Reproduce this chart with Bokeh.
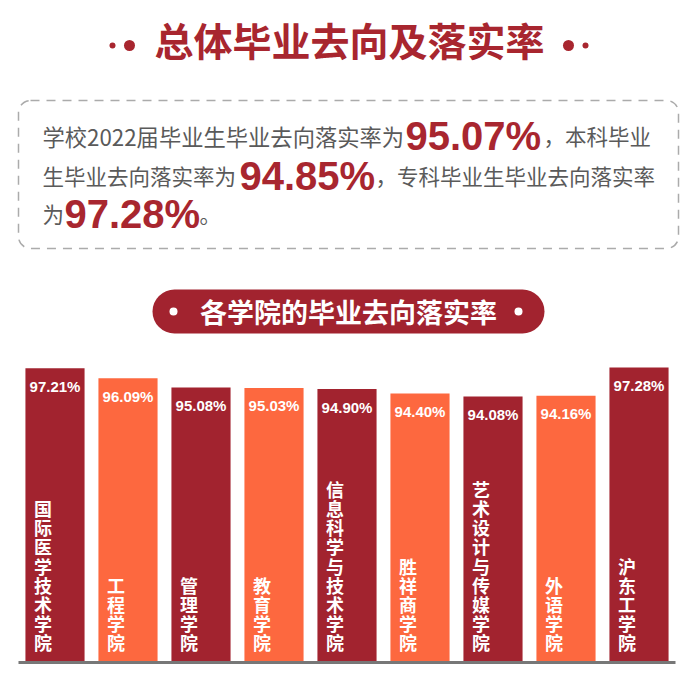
from bokeh.plotting import figure
from bokeh.models import Range1d, FactorRange, BoxAnnotation, ColumnDataSource
from bokeh.core.properties import value
from bokeh.embed import file_html
from bokeh.resources import INLINE

# ---------------- data ----------------
TITLE = "总体毕业去向及落实率"
SUBTITLE = "各学院的毕业去向落实率"
OVERALL_RATE = 95.07
UNDERGRAD_RATE = 94.85
JUNIOR_RATE = 97.28

colleges = ["国际医学技术学院", "工程学院", "管理学院", "教育学院", "信息科学与技术学院",
            "胜祥商学院", "艺术设计与传媒学院", "外语学院", "沪东工学院"]
rates = [97.21, 96.09, 95.08, 95.03, 94.90, 94.40, 94.08, 94.16, 97.28]

# ---------------- styles / layout ----------------
DARK = "#a2232f"
ORANGE = "#fd683f"
TITLE_RED = "#a8262f"
GRAY_TXT = "#5a5a5a"
CJK = "Noto Sans CJK SC"
LAT = "Liberation Sans"
W, H = 698, 685
RIGHT_BORDER = 5
PAD = 0.2466                 # factor-range padding (in category units)
BASE = 64.72                 # value at the bars' baseline
V_LO, V_HI = 62.18, 137.79   # value range over the whole canvas height

U_PER_PX = (len(colleges) + 2 * PAD) / (W - RIGHT_BORDER)
V_PER_PX = (V_HI - V_LO) / H


def X(px):   # page pixel -> synthetic x coordinate (for decorations)
    return px * U_PER_PX - PAD


def Y(py):   # page pixel (from top) -> y coordinate (for decorations)
    return V_LO + (H - py) * V_PER_PX


p = figure(width=W, height=H,
           x_range=FactorRange(factors=colleges, range_padding=PAD, range_padding_units="absolute"),
           y_range=Range1d(V_LO, V_HI),
           output_backend="svg", toolbar_location=None,
           min_border_left=0, min_border_right=RIGHT_BORDER, min_border_top=0, min_border_bottom=0)
p.axis.visible = False
p.grid.visible = False
p.outline_line_color = None

# ---------------- title ----------------
p.text(x=[X(W / 2)], y=[Y(38)], text=[TITLE], text_align="center", text_baseline="middle",
       text_font=value(CJK), text_font_style="bold", text_font_size="39px", text_color=TITLE_RED)
p.scatter(x=[X(v) for v in (112, 129, 568, 585)], y=[Y(45)] * 4, size=[6, 11, 11, 6],
          color=TITLE_RED, line_color=None)

# ---------------- paragraph box ----------------
p.add_layout(BoxAnnotation(left=X(18), right=X(678), top=Y(100), bottom=Y(248), level="underlay",
                           fill_color=None, fill_alpha=0, line_color="#ababab", line_alpha=1,
                           line_dash="9 7", line_width=1.5, border_radius=12))

num = lambda v: f"{v:.2f}%"
b1, b2, b3 = Y(135), Y(175), Y(213)
p.text(x=[X(42)], y=[b1], text=["学校2022届毕业生毕业去向落实率为"],
       text_align="left", text_baseline="alphabetic",
       text_font=value(CJK), text_font_size="22.3px", text_color=GRAY_TXT)
p.text(x=[X(v) for v in (543, 42, 375, 42, 199)], y=[b1, b2, b2, b3, b3],
       text=["，本科毕业",
             "生毕业去向落实率为", "，专科毕业生毕业去向落实率",
             "为", "。"],
       text_align="left", text_baseline="alphabetic",
       text_font=value(CJK), text_font_size="21.5px", text_color=GRAY_TXT)
p.text(x=[X(v) for v in (405, 239, 64)], y=[b1, b2, b3],
       text=[num(OVERALL_RATE), num(UNDERGRAD_RATE), num(JUNIOR_RATE)],
       text_align="left", text_baseline="alphabetic",
       text_font=value(LAT), text_font_style="bold", text_font_size="40px", text_color=TITLE_RED)

# ---------------- pill heading ----------------
p.add_layout(BoxAnnotation(left=X(152), right=X(544), top=Y(289), bottom=Y(333), level="underlay",
                           fill_color=DARK, fill_alpha=1, line_color=None, border_radius=22))
p.text(x=[X(348)], y=[Y(311)], text=[SUBTITLE], text_align="center", text_baseline="middle",
       text_font=value(CJK), text_font_style="bold", text_font_size="27px", text_color="white")
p.scatter(x=[X(173), X(518)], y=[Y(311)] * 2, size=8, color="white", line_color=None)

# ---------------- bars ----------------
src = ColumnDataSource(dict(
    college=colleges,
    rate=rates,
    color=[DARK if i % 2 == 0 else ORANGE for i in range(len(colleges))],
    label=[num(v) for v in rates],
    vlabel=["\n".join(list(c)) for c in colleges],
))

p.vbar(x="college", top="rate", bottom=BASE, width=0.81, source=src,
       fill_color="color", line_color=None)
p.segment(x0=[(colleges[0], -0.5)], x1=[(colleges[-1], 0.5)], y0=[BASE], y1=[BASE],
          line_color="#777777", line_width=3)
p.text(x="college", y="rate", text="label", source=src, text_align="center",
       text_baseline="middle", y_offset=18, text_font=value(LAT), text_font_style="bold",
       text_font_size="15px", text_color="white")
p.text(x="college", y=BASE, text="vlabel", source=src, text_align="center",
       text_baseline="bottom", x_offset=-12, y_offset=-7, text_font=value(CJK),
       text_font_style="bold", text_font_size="18px", text_line_height=0.74,
       text_color="white")

open("out.html", "w").write(file_html(p, INLINE))
